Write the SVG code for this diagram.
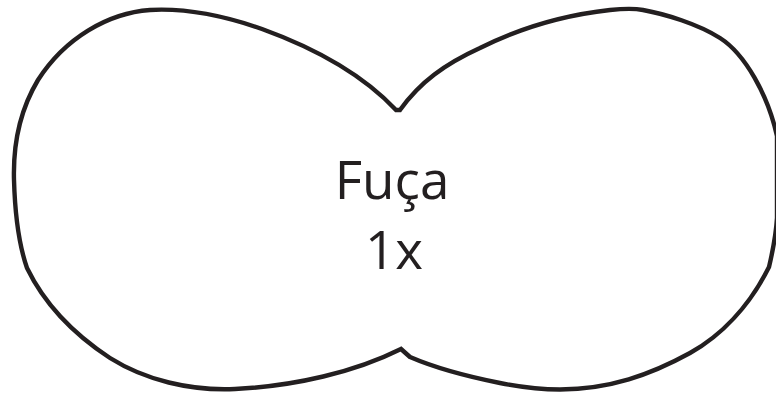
<svg xmlns="http://www.w3.org/2000/svg" width="776" height="396" viewBox="0 0 776 396">
<style>.o{fill:none;stroke:#231f20;stroke-width:4.4;stroke-linejoin:miter}.t{font-family:"Open Sans","Noto Sans",sans-serif;font-size:53px;fill:#231f20;text-anchor:middle}</style>
<rect width="776" height="396" fill="#fff"/>
<path class="o" d="M396 110 C366 78 320 50 262 29 C222 15 185 8 150 10 C108 13 65 38 38 80 C20 110 13 145 14 180 C15 215 19 245 27 268 C45 305 75 335 110 358 C145 380 190 391 235 389 C295 386 355 372 401 349 L410 357 C440 370 470 377 500 383 C520 387 540 389.5 560 389.5 C610 389 650 375 690 353 C722 335 750 305 769 267 C773 250 776 235 777 218 L777 136 C768 95 745 54 720 38 C698 24 665 14 643 10 C635 8.500 625 8.500 610 10 C565 15 520 28 480 48 C445 64 420 82 400 110 Z"/>
<text class="t" x="392" y="199">Fuça</text>
<text class="t" x="394" y="269">1x</text>
</svg>
